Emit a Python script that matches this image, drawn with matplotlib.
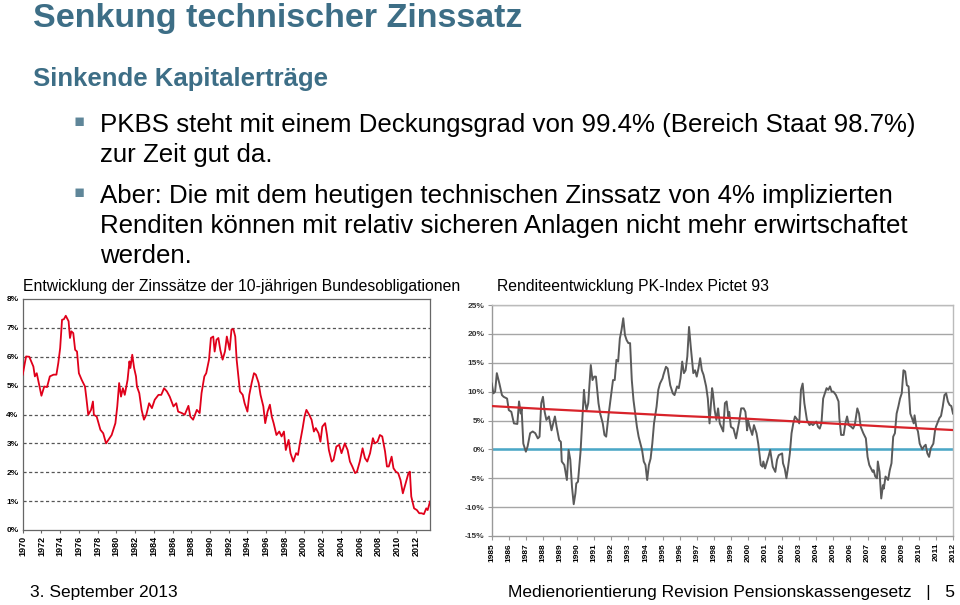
import matplotlib
matplotlib.use("Agg")
import matplotlib.pyplot as plt
import numpy as np

# Zinssaetze 10-jaehrige Bundesobligationen (in %), Jahr als Dezimalzahl
bond_years = [1970.0, 1970.36, 1970.7, 1971.14, 1971.3, 1971.5, 1971.8, 1972.0, 1972.3, 1972.6,
              1972.9, 1973.3, 1973.6, 1973.8, 1974.0, 1974.2, 1974.4, 1974.6, 1974.9, 1975.05,
              1975.2, 1975.4, 1975.6, 1975.8, 1976.0, 1976.3, 1976.65, 1976.8, 1977.0, 1977.3,
              1977.5, 1977.6, 1977.9, 1978.3, 1978.6, 1978.9, 1979.15, 1979.5, 1979.9, 1980.1,
              1980.3, 1980.5, 1980.7, 1980.9, 1981.2, 1981.4, 1981.5, 1981.7, 1981.9, 1982.1,
              1982.2, 1982.45, 1982.7, 1982.95, 1983.2, 1983.5, 1983.8, 1984.1, 1984.5, 1984.8,
              1985.1, 1985.4, 1985.7, 1986.1, 1986.4, 1986.6, 1987.0, 1987.3, 1987.7, 1987.9,
              1988.2, 1988.6, 1988.9, 1989.1, 1989.4, 1989.6, 1989.9, 1990.1, 1990.35, 1990.5,
              1990.7, 1990.9, 1991.1, 1991.35, 1991.6, 1991.8, 1992.1, 1992.3, 1992.5, 1992.7,
              1992.85, 1993.0, 1993.2, 1993.5, 1993.7, 1994.0, 1994.2, 1994.45, 1994.7, 1994.9,
              1995.2, 1995.4, 1995.7, 1995.9, 1996.15, 1996.4, 1996.6, 1996.8, 1997.1, 1997.4,
              1997.65, 1997.9, 1998.1, 1998.4, 1998.6, 1998.9, 1999.2, 1999.4, 1999.6, 1999.9,
              2000.1, 2000.3, 2000.6, 2000.85, 2001.1, 2001.3, 2001.6, 2001.8, 2002.0, 2002.3,
              2002.5, 2002.7, 2003.0, 2003.2, 2003.5, 2003.8, 2004.05, 2004.4, 2004.7, 2004.95,
              2005.2, 2005.5, 2005.7, 2006.0, 2006.3, 2006.55, 2006.8, 2007.1, 2007.4, 2007.6,
              2007.9, 2008.15, 2008.4, 2008.7, 2008.9, 2009.1, 2009.4, 2009.6, 2009.85, 2010.1,
              2010.35, 2010.6, 2010.9, 2011.2, 2011.35, 2011.5, 2011.8, 2012.1, 2012.35, 2012.6,
              2012.85, 2013.1, 2013.25, 2013.5]
bond_rates = [5.38, 6.01, 6.0, 5.66, 5.32, 5.43, 4.97, 4.65, 4.97, 4.95,
              5.32, 5.38, 5.38, 5.78, 6.3, 7.28, 7.3, 7.42, 7.23, 6.65,
              6.88, 6.82, 6.24, 6.18, 5.43, 5.2, 4.97, 4.57, 3.99, 4.16,
              4.45, 3.99, 3.93, 3.47, 3.35, 3.0, 3.12, 3.29, 3.7, 4.28,
              5.09, 4.62, 4.91, 4.68, 5.2, 5.84, 5.61, 6.07, 5.61, 5.32,
              4.97, 4.74, 4.16, 3.82, 3.99, 4.39, 4.22, 4.51, 4.68, 4.68,
              4.91, 4.8, 4.62, 4.28, 4.39, 4.1, 4.05, 3.99, 4.3, 3.93,
              3.82, 4.16, 4.05, 4.74, 5.32, 5.43, 5.9, 6.65, 6.7, 6.18,
              6.59, 6.65, 6.24, 5.9, 6.18, 6.7, 6.24, 6.94, 6.96, 6.7,
              5.9, 5.43, 4.8, 4.68, 4.39, 4.1, 4.68, 5.09, 5.43, 5.38,
              5.09, 4.68, 4.28, 3.7, 4.1, 4.34, 3.93, 3.7, 3.29, 3.41,
              3.24, 3.41, 2.77, 3.12, 2.66, 2.37, 2.66, 2.6, 3.0, 3.53,
              3.93, 4.16, 3.99, 3.82, 3.41, 3.53, 3.35, 3.06, 3.58, 3.7,
              3.29, 2.77, 2.37, 2.43, 2.89, 2.95, 2.66, 3.0, 2.77, 2.37,
              2.2, 1.97, 2.02, 2.37, 2.83, 2.49, 2.37, 2.66, 3.18, 3.0,
              3.06, 3.29, 3.24, 2.72, 2.2, 2.2, 2.54, 2.14, 2.02, 1.97,
              1.73, 1.27, 1.62, 1.97, 2.02, 1.16, 0.75, 0.69, 0.58, 0.58,
              0.55, 0.75, 0.69, 0.98]

# Rendite PK-Index Pictet 93 (in %)
pk_years = [1985.0, 1985.1, 1985.2, 1985.3, 1985.45, 1985.6, 1985.7, 1985.9, 1986.0, 1986.15,
            1986.3, 1986.5, 1986.6, 1986.7, 1986.75, 1986.85, 1987.0, 1987.1, 1987.25, 1987.4,
            1987.55, 1987.7, 1987.8, 1987.9, 1988.0, 1988.1, 1988.2, 1988.35, 1988.5, 1988.7,
            1988.8, 1988.95, 1989.05, 1989.1, 1989.25, 1989.4, 1989.5, 1989.6, 1989.7, 1989.8,
            1989.9, 1989.95, 1990.05, 1990.2, 1990.3, 1990.4, 1990.45, 1990.55, 1990.65, 1990.8,
            1990.9, 1991.0, 1991.1, 1991.25, 1991.35, 1991.5, 1991.6, 1991.7, 1991.85, 1992.0,
            1992.1, 1992.2, 1992.3, 1992.4, 1992.5, 1992.6, 1992.7, 1992.8, 1992.9, 1993.0,
            1993.1, 1993.2, 1993.3, 1993.5, 1993.6, 1993.8, 1993.9, 1994.0, 1994.1, 1994.2,
            1994.3, 1994.4, 1994.5, 1994.65, 1994.75, 1994.85, 1995.0, 1995.05, 1995.2, 1995.3,
            1995.45, 1995.6, 1995.7, 1995.85, 1995.95, 1996.05, 1996.15, 1996.25, 1996.35, 1996.45,
            1996.55, 1996.65, 1996.8, 1996.9, 1997.0, 1997.1, 1997.2, 1997.3, 1997.4, 1997.55,
            1997.65, 1997.75, 1997.9, 1997.95, 1998.05, 1998.15, 1998.25, 1998.35, 1998.55, 1998.65,
            1998.75, 1998.85, 1998.9, 1999.0, 1999.15, 1999.3, 1999.5, 1999.6, 1999.75, 1999.85,
            1999.95, 2000.0, 2000.1, 2000.25, 2000.35, 2000.5, 2000.6, 2000.75, 2000.85, 2000.9,
            2001.0, 2001.2, 2001.3, 2001.45, 2001.6, 2001.7, 2001.8, 2002.0, 2002.05, 2002.15,
            2002.25, 2002.35, 2002.45, 2002.55, 2002.65, 2002.75, 2002.9, 2003.0, 2003.1, 2003.2,
            2003.3, 2003.45, 2003.6, 2003.7, 2003.8, 2004.0, 2004.1, 2004.2, 2004.3, 2004.4,
            2004.6, 2004.7, 2004.8, 2004.9, 2005.0, 2005.15, 2005.3, 2005.35, 2005.45, 2005.6,
            2005.7, 2005.8, 2005.9, 2006.05, 2006.15, 2006.25, 2006.4, 2006.5, 2006.6, 2006.75,
            2006.9, 2007.0, 2007.1, 2007.3, 2007.35, 2007.45, 2007.55, 2007.6, 2007.7, 2007.8,
            2007.9, 2007.95, 2008.05, 2008.2, 2008.3, 2008.4, 2008.5, 2008.6, 2008.7, 2008.8,
            2008.9, 2009.0, 2009.1, 2009.2, 2009.3, 2009.4, 2009.5, 2009.6, 2009.7, 2009.75,
            2009.85, 2009.95, 2010.05, 2010.2, 2010.3, 2010.4, 2010.5, 2010.6, 2010.7, 2010.85,
            2010.95, 2011.0, 2011.2, 2011.3, 2011.4, 2011.5, 2011.6, 2011.7, 2011.8, 2011.9,
            2012.0]
pk_returns = [11.4, 9.7, 10.0, 13.2, 11.4, 9.4, 9.1, 8.8, 6.8, 6.5,
              4.5, 4.4, 8.3, 6.2, 7.1, 1.0, -0.4, 0.5, 2.8, 3.1,
              2.8, 1.9, 2.2, 8.0, 9.1, 6.5, 5.1, 5.7, 3.3, 5.7,
              3.9, 1.6, 1.3, -2.1, -2.7, -5.3, -0.1, -1.8, -6.5, -9.5,
              -7.6, -5.9, -5.6, -0.4, 5.1, 10.3, 8.5, 6.8, 8.0, 14.6,
              12.0, 12.6, 12.6, 8.0, 6.2, 4.5, 2.5, 2.2, 6.2, 9.7,
              12.0, 12.0, 15.5, 15.2, 19.2, 20.7, 22.7, 19.8, 18.9, 18.4,
              18.4, 12.0, 8.5, 3.9, 2.2, -0.1, -2.1, -2.7, -5.3, -2.7,
              -1.6, 1.0, 4.5, 7.4, 10.3, 11.4, 12.3, 12.9, 14.3, 14.0,
              11.1, 9.7, 9.4, 10.9, 10.6, 12.3, 15.2, 13.2, 13.7, 16.1,
              21.2, 17.8, 13.2, 13.7, 12.6, 14.0, 15.8, 13.7, 12.9, 10.9,
              8.8, 4.5, 10.6, 9.7, 6.8, 5.1, 7.1, 4.5, 3.1, 8.0,
              8.3, 5.7, 6.5, 3.9, 3.6, 1.9, 5.1, 7.1, 7.1, 6.5,
              3.3, 5.1, 3.9, 2.5, 4.2, 2.8, 1.0, -2.7, -3.0, -2.1,
              -3.3, -1.3, -0.1, -3.0, -3.9, -1.8, -1.0, -0.7, -2.4, -3.3,
              -5.0, -3.0, -0.7, 2.8, 4.5, 5.7, 5.1, 4.5, 10.3, 11.4,
              8.0, 5.1, 4.2, 4.5, 4.2, 4.8, 3.9, 3.6, 4.5, 8.8,
              10.6, 10.3, 10.9, 10.0, 10.0, 9.4, 8.3, 5.4, 2.5, 2.5,
              4.5, 5.7, 4.2, 3.9, 3.6, 4.2, 7.1, 6.2, 3.9, 2.8,
              1.9, -1.3, -2.7, -3.9, -3.6, -4.7, -5.0, -2.1, -3.9, -8.5,
              -6.2, -6.8, -4.7, -5.3, -3.6, -2.4, 2.2, 2.8, 6.2, 7.4,
              8.8, 9.7, 13.7, 13.5, 11.1, 10.9, 6.2, 5.4, 4.5, 5.9,
              3.9, 3.1, 1.0, 0.0, 0.5, 0.8, -0.7, -1.3, 0.2, 1.0,
              3.3, 3.9, 5.4, 5.8, 7.4, 9.4, 9.7, 8.3, 7.7, 7.5,
              6.2]

trend_years = [1985, 1988, 1992, 1996, 2000, 2003, 2006, 2009, 2012]
trend_values = [7.5, 7.0, 6.4, 5.8, 5.3, 4.8, 4.3, 3.8, 3.35]

title_col = "#3d6e86"
font = "Liberation Sans"

fig = plt.figure(figsize=(9.6, 6.05), dpi=100)

# Texte oben
fig.text(33 / 960, 1 - 18 / 605, "Senkung technischer Zinssatz", fontsize=24.5, fontweight="bold",
         color=title_col, family=font, va="center")
fig.text(33 / 960, 1 - 79 / 605, "Sinkende Kapitalerträge", fontsize=18.5, fontweight="bold",
         color=title_col, family=font, va="center")

bullets = [(125, "PKBS steht mit einem Deckungsgrad von 99.4% (Bereich Staat 98.7%)"),
           (155, "zur Zeit gut da."),
           (196, "Aber: Die mit dem heutigen technischen Zinssatz von 4% implizierten"),
           (226, "Renditen können mit relativ sicheren Anlagen nicht mehr erwirtschaftet"),
           (256, "werden.")]
for y, txt in bullets:
    fig.text(100 / 960, 1 - y / 605, txt, fontsize=18.6, color="black", family=font, va="center")
for y in [125, 196]:
    fig.text(79 / 960, 1 - (y - 4) / 605, "▪", fontsize=12, color="#5f8699", va="center",
             ha="center", family="DejaVu Sans")

fig.text(23 / 960, 1 - 287 / 605, "Entwicklung der Zinssätze der 10-jährigen Bundesobligationen",
         fontsize=11.3, family=font, va="center")
fig.text(497 / 960, 1 - 287 / 605, "Renditeentwicklung PK-Index Pictet 93",
         fontsize=11.3, family=font, va="center")

fig.text(30 / 960, 1 - 592 / 605, "3. September 2013", fontsize=12.5, family=font, va="center")
fig.text(955 / 960, 1 - 592 / 605, "Medienorientierung Revision Pensionskassengesetz   |   5",
         fontsize=12.5, family=font, va="center", ha="right")

# linkes Diagramm
ax1 = fig.add_axes([22.7 / 960, 1 - 530 / 605, 407.3 / 960, 231 / 605])
ax1.plot(bond_years, bond_rates, color="#e0001a", lw=1.3, zorder=3)
ax1.set_xlim(1970, 2013.5)
ax1.set_ylim(0, 8)
ax1.set_yticks(range(0, 9))
ax1.set_yticklabels([f"{v}%" for v in range(0, 9)], fontsize=6, fontweight="bold", family=font)
ax1.set_xticks(range(1970, 2013, 2))
ax1.set_xticklabels([str(v) for v in range(1970, 2013, 2)], rotation=90, fontsize=6.5,
                    fontweight="bold", family=font)
for v in range(1, 8):
    ax1.axhline(v, color="#555555", lw=0.9, ls=(0, (2.5, 2)), zorder=1)
for s in ax1.spines.values():
    s.set_color("#666666")
    s.set_linewidth(0.9)
ax1.tick_params(length=2, width=0.8, color="#666666", pad=2)
ax1.tick_params(axis="y", length=0, pad=3)

# rechtes Diagramm
ax2 = fig.add_axes([491.7 / 960, 1 - 536 / 605, 461.3 / 960, 231 / 605])
for v in range(-10, 26, 5):
    ax2.axhline(v, color="#a6a6a6", lw=1.0, zorder=1)
ax2.axhline(0, color="#4aa8c8", lw=1.8, zorder=2)
ax2.plot(pk_years, pk_returns, color="#5a5a5a", lw=1.4, zorder=3)
ax2.plot(trend_years, trend_values, color="#d8232a", lw=1.6, zorder=4)
ax2.set_xlim(1985, 2012)
ax2.set_ylim(-15, 25)
ax2.set_yticks(range(-15, 26, 5))
ax2.set_yticklabels([f"{v}%" for v in range(-15, 26, 5)], fontsize=6, fontweight="bold",
                    family=font, color="#333333")
ax2.set_xticks(range(1985, 2013))
ax2.set_xticklabels([str(v) for v in range(1985, 2013)], rotation=90, fontsize=6,
                    fontweight="bold", family=font)
for s in ax2.spines.values():
    s.set_color("#bbbbbb")
    s.set_linewidth(1.0)
ax2.spines["left"].set_color("#999999")
ax2.spines["bottom"].set_color("#999999")
ax2.tick_params(length=3, width=0.8, color="#999999", pad=2)

fig.savefig("out.png", dpi=100)
